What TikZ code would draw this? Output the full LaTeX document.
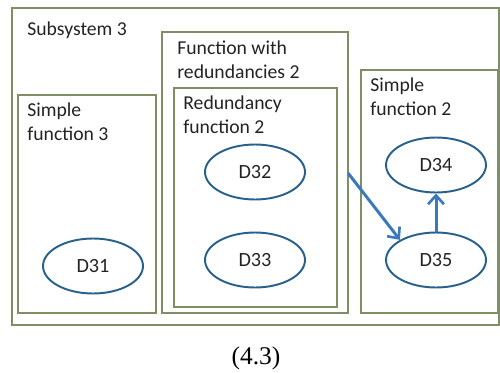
\documentclass[tikz,border=0pt]{standalone}
\usepackage{fontspec}
\setmainfont{Carlito}
\newfontfamily\capfont{Liberation Serif}
\usetikzlibrary{shapes.geometric,arrows.meta}

\definecolor{boxgreen}{RGB}{128,142,102}
\definecolor{ellblue}{RGB}{38,96,140}
\definecolor{arrblue}{RGB}{58,122,188}
\definecolor{txtgray}{RGB}{35,35,35}

\begin{document}
\begin{tikzpicture}[x=0.02cm, y=-0.02cm,
  box/.style={draw=boxgreen, line width=1.1pt},
  lbl/.style={anchor=base west, inner sep=0pt, align=left, text=txtgray,
    font=\fontsize{11.2}{13.2}\selectfont},
  dnode/.style={ellipse, draw=ellblue, line width=1.1pt, inner sep=0pt,
    minimum width=2cm, minimum height=1.1cm, text=txtgray,
    font=\fontsize{11.5}{12}\selectfont},
  flow/.style={draw=arrblue, line width=1.7pt,
    -{Straight Barb[length=5pt, width=9pt, line width=1.5pt]}}]
  \useasboundingbox (0,0) rectangle (500,372);
  \draw[box] (12,8) rectangle (499,325);
  \draw[box] (18,95) rectangle (156,313);
  \draw[box] (162,32) rectangle (348,313);
  \draw[box] (174,88) rectangle (337,307);
  \draw[box] (361,70) rectangle (498,313);
  \node[lbl] (subsys) at (27,35) {Subsystem 3};
  \node[lbl] (simple3) at (27,140) {Simple\\function 3};
  \node[lbl] (funred) at (177,78) {Function with\\redundancies 2};
  \node[lbl] (redfun) at (183,133) {Redundancy\\function 2};
  \node[lbl] (simple2) at (370,115) {Simple\\function 2};
  \node[dnode] (d31) at (93,266) {D31};
  \node[dnode] (d32) at (255,172) {D32};
  \node[dnode] (d33) at (255,260) {D33};
  \node[dnode] (d34) at (436,165) {D34};
  \node[dnode] (d35) at (436,260) {D35};
  \coordinate (funout) at (348,173);
  \draw[flow] (funout) -- (d35.north west);
  \draw[flow] (d35.north) -- (d34.south);
  \node[font=\capfont\fontsize{14.5}{16}\selectfont] (caption) at (256,358) {(4.3)};
\end{tikzpicture}
\end{document}
